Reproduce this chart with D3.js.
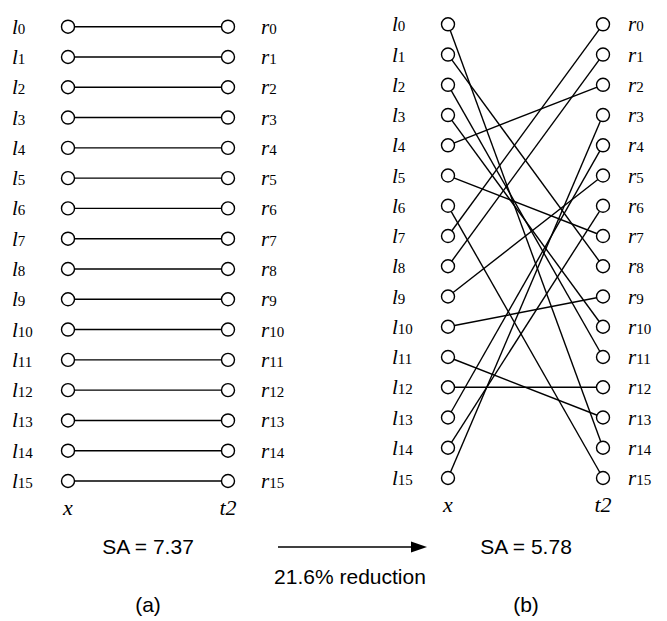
<!DOCTYPE html>
<html>
<head>
<meta charset="utf-8">
<script src="https://cdn.jsdelivr.net/npm/d3@7"></script>
<style>
  html, body { margin: 0; padding: 0; background: #fff; }
  svg { display: block; }
  .serif { font-family: "Liberation Serif", "Times New Roman", Times, serif; }
  .sans { font-family: "Liberation Sans", Arial, Helvetica, sans-serif; }
</style>
</head>
<body>
<svg id="chart" width="667" height="621"></svg>
<script>
// ---- data ----
const nodeIds = [0, 1, 2, 3, 4, 5, 6, 7, 8, 9, 10, 11, 12, 13, 14, 15];
// right node connected to left node i
const matchingA = [0, 1, 2, 3, 4, 5, 6, 7, 8, 9, 10, 11, 12, 13, 14, 15];
const matchingB = [14, 8, 11, 10, 2, 7, 15, 0, 1, 5, 9, 13, 12, 4, 6, 3];
const leftPrefix = "l";
const rightPrefix = "r";
const columnLabels = ["x", "t2"];
const saValues = ["7.37", "5.78"];
const panelNames = ["(a)", "(b)"];
const reductionText = "21.6% reduction";

const svg = d3.select("#chart");

const panels = [
  { match: matchingA, xL: 68, xR: 228, y0: 26.7, y1: 481, lblL: 12, lblR: 261, cx: 148, name: panelNames[0], sa: saValues[0] },
  { match: matchingB, xL: 448, xR: 603, y0: 24.3, y1: 478, lblL: 392, lblR: 628, cx: 526, name: panelNames[1], sa: saValues[1] }
];

panels.forEach(p => {
  const g = svg.append("g");
  const y = d3.scaleLinear().domain([0, 15]).range([p.y0, p.y1]);
  const x = d3.scalePoint().domain(["L", "R"]).range([p.xL, p.xR]);

  // edges
  g.selectAll("line.edge").data(nodeIds).join("line")
    .attr("class", "edge")
    .attr("x1", x("L")).attr("y1", i => y(i))
    .attr("x2", x("R")).attr("y2", i => y(p.match[i]))
    .attr("stroke", "#000").attr("stroke-width", 1.4);

  // nodes
  ["L", "R"].forEach(side => {
    g.selectAll("circle.n" + side).data(nodeIds).join("circle")
      .attr("class", "n" + side)
      .attr("cx", x(side)).attr("cy", i => y(i)).attr("r", 6.5)
      .attr("fill", "#fff").attr("stroke", "#000").attr("stroke-width", 1.4);
  });

  // labels
  const addLabel = (prefix, xpos) => {
    const t = g.selectAll("text.lab" + prefix).data(nodeIds).join("text")
      .attr("class", "serif lab" + prefix)
      .attr("x", xpos).attr("y", i => y(i) + 7)
      .attr("fill", "#000");
    t.append("tspan").attr("class", "serif").style("font-style", "italic").style("font-size", "21px").text(prefix);
    t.append("tspan").attr("class", "serif").style("font-size", "15px").text(i => i);
  };
  addLabel(leftPrefix, p.lblL);
  addLabel(rightPrefix, p.lblR);

  // column labels
  g.selectAll("text.col").data(columnLabels).join("text")
    .attr("class", "serif col")
    .attr("x", (d, i) => i === 0 ? x("L") : x("R"))
    .attr("y", p.y1 + 34)
    .attr("text-anchor", "middle")
    .style("font-style", "italic").style("font-size", "22px")
    .text(d => d);

  // SA text
  g.append("text")
    .attr("class", "sans")
    .attr("x", p.cx).attr("y", 554)
    .attr("text-anchor", "middle")
    .style("font-size", "21px")
    .text("SA = " + p.sa);

  // panel name
  g.append("text")
    .attr("class", "sans")
    .attr("x", p.cx).attr("y", 612)
    .attr("text-anchor", "middle")
    .style("font-size", "21px")
    .text(p.name);
});

// arrow
svg.append("line")
  .attr("x1", 278).attr("y1", 547).attr("x2", 414).attr("y2", 547)
  .attr("stroke", "#000").attr("stroke-width", 1.5);
svg.append("path")
  .attr("d", d3.line()([[427, 547], [411, 541.5], [411, 552.5]]) + "Z")
  .attr("fill", "#000");

svg.append("text")
  .attr("class", "sans")
  .attr("x", 350).attr("y", 584)
  .attr("text-anchor", "middle")
  .style("font-size", "21px")
  .text(reductionText);
</script>
</body>
</html>
